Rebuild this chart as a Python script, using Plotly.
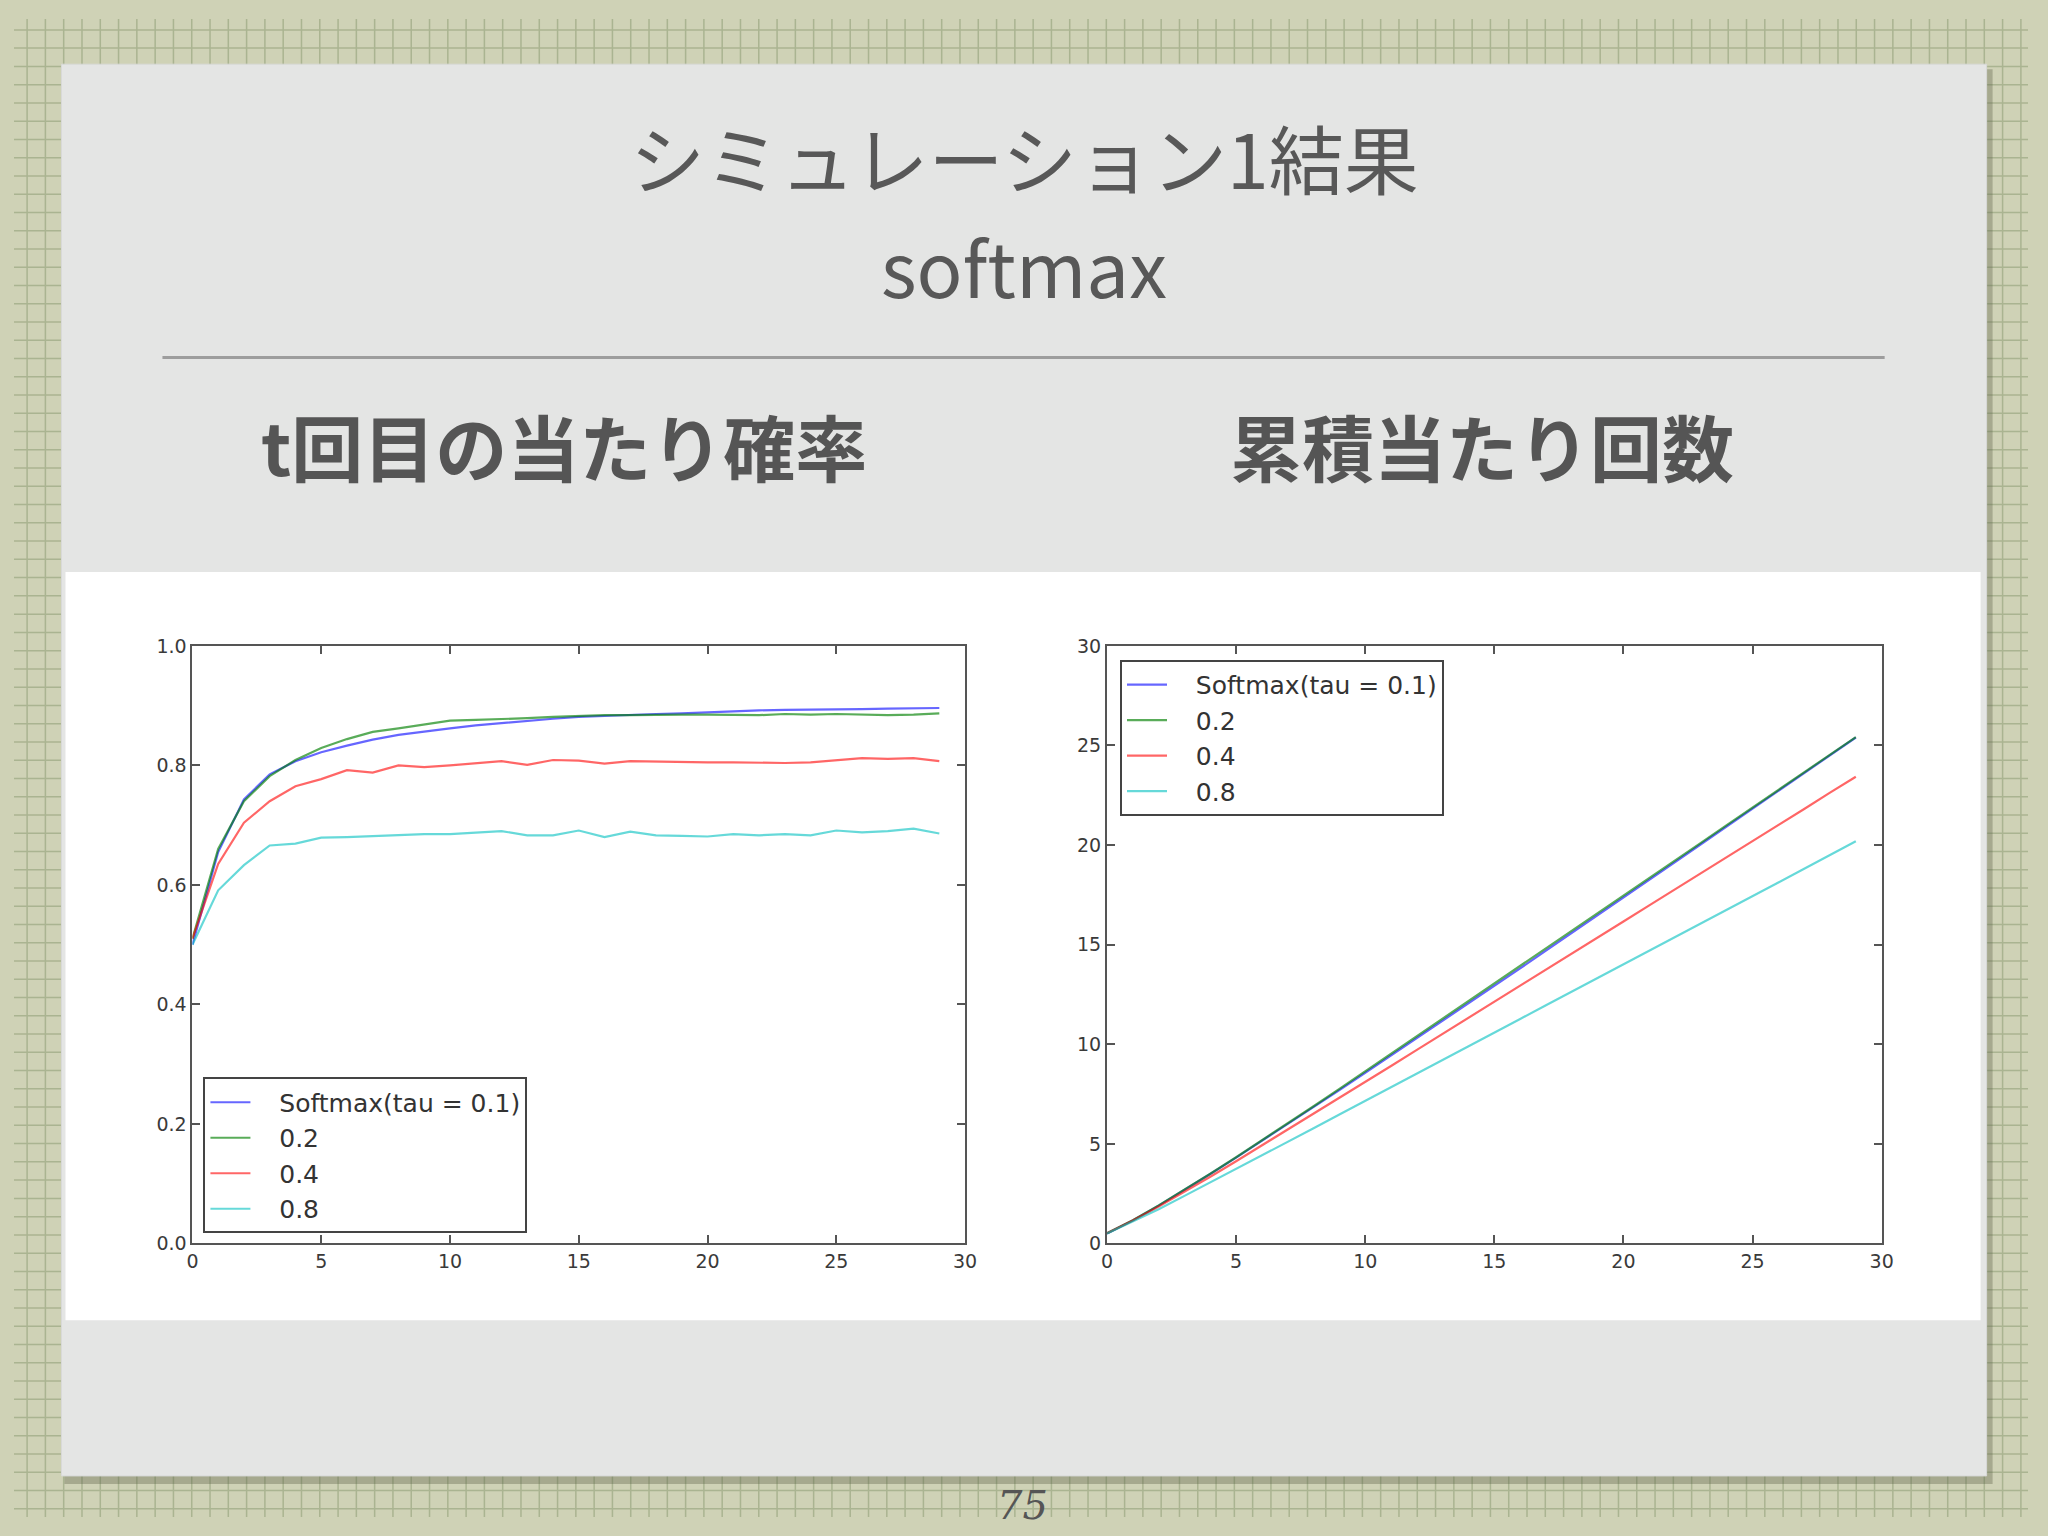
import plotly.graph_objects as go

# ---------------- data ----------------
steps = list(range(30))
series_names = ["Softmax(tau = 0.1)", "0.2", "0.4", "0.8"]

# t回目の当たり確率 (hit probability at step t)
prob_tau01 = [0.500, 0.655, 0.743, 0.785, 0.807, 0.822, 0.833, 0.843, 0.851, 0.857,
              0.862, 0.867, 0.871, 0.875, 0.878, 0.881, 0.883, 0.885, 0.886, 0.887,
              0.889, 0.890, 0.892, 0.893, 0.893, 0.894, 0.894, 0.895, 0.895, 0.896]
prob_tau02 = [0.510, 0.660, 0.740, 0.782, 0.809, 0.829, 0.844, 0.856, 0.862, 0.869,
              0.875, 0.876, 0.877, 0.879, 0.881, 0.883, 0.884, 0.884, 0.885, 0.885,
              0.885, 0.885, 0.884, 0.886, 0.885, 0.886, 0.885, 0.884, 0.885, 0.887]
prob_tau04 = [0.510, 0.635, 0.704, 0.740, 0.765, 0.777, 0.792, 0.788, 0.800, 0.797,
              0.800, 0.804, 0.807, 0.801, 0.809, 0.808, 0.803, 0.807, 0.806, 0.806,
              0.805, 0.805, 0.804, 0.804, 0.805, 0.808, 0.812, 0.811, 0.812, 0.807]
prob_tau08 = [0.500, 0.591, 0.633, 0.666, 0.669, 0.679, 0.680, 0.682, 0.683, 0.685,
              0.685, 0.688, 0.690, 0.683, 0.683, 0.691, 0.680, 0.689, 0.683, 0.682,
              0.681, 0.685, 0.683, 0.685, 0.683, 0.691, 0.688, 0.690, 0.694, 0.686]

# 累積当たり回数 (cumulative hits)
cum_tau01 = [0.50, 1.16, 1.90, 2.68, 3.49, 4.31, 5.15, 5.99, 6.84, 7.70,
             8.56, 9.43, 10.30, 11.17, 12.05, 12.93, 13.81, 14.70, 15.58, 16.47,
             17.36, 18.25, 19.14, 20.04, 20.93, 21.82, 22.72, 23.61, 24.51, 25.40]
cum_tau02 = [0.51, 1.17, 1.91, 2.69, 3.50, 4.33, 5.17, 6.03, 6.89, 7.76,
             8.64, 9.51, 10.39, 11.27, 12.15, 13.03, 13.92, 14.80, 15.69, 16.57,
             17.46, 18.34, 19.22, 20.11, 21.00, 21.88, 22.77, 23.65, 24.54, 25.42]
cum_tau04 = [0.51, 1.15, 1.85, 2.59, 3.35, 4.13, 4.92, 5.71, 6.51, 7.31,
             8.11, 8.91, 9.72, 10.52, 11.33, 12.14, 12.94, 13.75, 14.55, 15.36,
             16.16, 16.97, 17.77, 18.58, 19.38, 20.19, 21.00, 21.81, 22.63, 23.43]
cum_tau08 = [0.50, 1.09, 1.72, 2.39, 3.06, 3.74, 4.42, 5.10, 5.78, 6.47,
             7.15, 7.84, 8.53, 9.21, 9.90, 10.59, 11.27, 11.96, 12.64, 13.32,
             14.00, 14.69, 15.37, 16.06, 16.74, 17.43, 18.12, 18.81, 19.50, 20.19]

left_ticks = [0.0, 0.2, 0.4, 0.6, 0.8, 1.0]
right_ticks = [0, 5, 10, 15, 20, 25, 30]
x_ticks = [0, 5, 10, 15, 20, 25, 30]

slide_title = "シミュレーション1結果"
slide_sub = "softmax"
left_title = "t回目の当たり確率"
right_title = "累積当たり回数"
page_no = "75"

# ---------------- styling ----------------
PAGE_W, PAGE_H = 2048, 1536
BODY_MARGIN = 8                      # default page margin around the figure
W, H = PAGE_W - 2 * BODY_MARGIN, PAGE_H - 2 * BODY_MARGIN
# small calibration of the capture (observed ~1% shrink + offset)
SX, OX = 0.9916, 5.6
SY, OY = 0.9878, 7.9
BG = "#cfd2b6"
colors = ["rgba(0,0,255,0.6)", "rgba(0,128,0,0.65)", "rgba(255,0,0,0.6)", "rgba(0,191,191,0.6)"]
tick_font = dict(family="DejaVu Sans", size=19, color="#3a3a3a")
leg_font = dict(family="DejaVu Sans", size=25, color="#333333")
pad = "\u00a0\u00a0\u00a0"  # gap between legend sample line and label


def px_x(p):
    """target pixel -> paper x"""
    q = p / SX - OX
    return (q - BODY_MARGIN) / W


def px_y(p):
    """target pixel -> paper y"""
    q = p / SY - OY
    return 1 - (q - BODY_MARGIN) / H


fig = go.Figure()

for name, arr, c in zip(series_names, [prob_tau01, prob_tau02, prob_tau04, prob_tau08], colors):
    fig.add_trace(go.Scatter(x=steps, y=arr, mode="lines", name=pad + name,
                             line=dict(color=c, width=2.2),
                             xaxis="x", yaxis="y", legend="legend"))
for name, arr, c in zip(series_names, [cum_tau01, cum_tau02, cum_tau04, cum_tau08], colors):
    fig.add_trace(go.Scatter(x=steps, y=arr, mode="lines", name=pad + name,
                             line=dict(color=c, width=2.2),
                             xaxis="x2", yaxis="y2", legend="legend2"))

axis_common = dict(showline=True, linecolor="#555555", linewidth=2, mirror="ticks",
                   ticks="inside", ticklen=8, tickcolor="#555555", tickwidth=1.5,
                   showgrid=False, zeroline=False, tickfont=tick_font)

fig.update_layout(
    width=W, height=H,
    margin=dict(l=0, r=0, t=0, b=0),
    paper_bgcolor=BG,
    plot_bgcolor="#ffffff",
    xaxis=dict(domain=[px_x(192), px_x(965)], range=[0, 30], tickvals=x_ticks,
               anchor="y", **axis_common),
    yaxis=dict(domain=[px_y(1243), px_y(644)], range=[0, 1], tickvals=left_ticks,
               tickformat=".1f", anchor="x", **axis_common),
    xaxis2=dict(domain=[px_x(1107), px_x(1882)], range=[0, 30], tickvals=x_ticks,
                anchor="y2", **axis_common),
    yaxis2=dict(domain=[px_y(1243), px_y(644)], range=[0, 30], tickvals=right_ticks,
                anchor="x2", **axis_common),
    legend=dict(x=px_x(203), y=px_y(1233), xanchor="left", yanchor="bottom",
                bgcolor="#ffffff", bordercolor="#444444", borderwidth=2,
                font=leg_font, itemwidth=40),
    legend2=dict(x=px_x(1120), y=px_y(658), xanchor="left", yanchor="top",
                 bgcolor="#ffffff", bordercolor="#444444", borderwidth=2,
                 font=leg_font, itemwidth=40),
)

# ---------------- background decoration (graph paper + slide card) ----------------
step = 18.3
parts = []
v = -10.0
while v < PAGE_W + 30:
    x = px_x(v)
    if 0 <= x <= 1:
        parts.append(f"M{x:.5f},0 L{x:.5f},1")
    v += step
h = -10.0
while h < PAGE_H + 30:
    y = px_y(h)
    if 0 <= y <= 1:
        parts.append(f"M0,{y:.5f} L1,{y:.5f}")
    h += step

shapes = [
    dict(type="path", xref="paper", yref="paper", layer="below",
         path=" ".join(parts),
         line=dict(color="rgba(140,155,115,0.55)", width=1.5)),
    # shadow
    dict(type="rect", xref="paper", yref="paper", layer="below",
         x0=px_x(64), x1=px_x(1993), y0=px_y(1484), y1=px_y(66),
         fillcolor="rgba(90,95,70,0.35)", line=dict(width=0)),
    # slide card
    dict(type="rect", xref="paper", yref="paper", layer="below",
         x0=px_x(61), x1=px_x(1987), y0=px_y(1476), y1=px_y(61),
         fillcolor="#e4e5e4", line=dict(color="#d8d9d8", width=1)),
    # white chart panel
    dict(type="rect", xref="paper", yref="paper", layer="below",
         x0=px_x(65), x1=px_x(1981), y0=px_y(1320), y1=px_y(570),
         fillcolor="#ffffff", line=dict(width=0)),
    # separator line
    dict(type="line", xref="paper", yref="paper", layer="below",
         x0=px_x(162), x1=px_x(1885), y0=px_y(355), y1=px_y(355),
         line=dict(color="#9d9d9d", width=3)),
]
fig.update_layout(shapes=shapes)

annotations = [
    dict(text=slide_title, x=px_x(1024), y=px_y(154), xref="paper", yref="paper",
         showarrow=False, xanchor="center", yanchor="middle",
         font=dict(family="Noto Sans CJK JP", size=75, color="#585858", weight=400)),
    dict(text=slide_sub, x=px_x(1024), y=px_y(262), xref="paper", yref="paper",
         showarrow=False, xanchor="center", yanchor="middle",
         font=dict(family="Noto Sans CJK JP", size=76, color="#585858", weight=400)),
    dict(text=left_title, x=px_x(564), y=px_y(442), xref="paper", yref="paper",
         showarrow=False, xanchor="center", yanchor="middle",
         font=dict(family="Noto Sans CJK JP", size=72, color="#555555", weight=700)),
    dict(text=right_title, x=px_x(1482), y=px_y(442), xref="paper", yref="paper",
         showarrow=False, xanchor="center", yanchor="middle",
         font=dict(family="Noto Sans CJK JP", size=72, color="#555555", weight=700)),
    dict(text=page_no, x=px_x(1022), y=px_y(1505), xref="paper", yref="paper",
         showarrow=False, xanchor="center", yanchor="middle",
         font=dict(family="DejaVu Serif", size=40, color="#555555", style="italic")),
]
fig.update_layout(annotations=annotations)

fig.write_html("out.html",
               config={"displayModeBar": False},
               post_script=f"document.body.style.background='{BG}';")
